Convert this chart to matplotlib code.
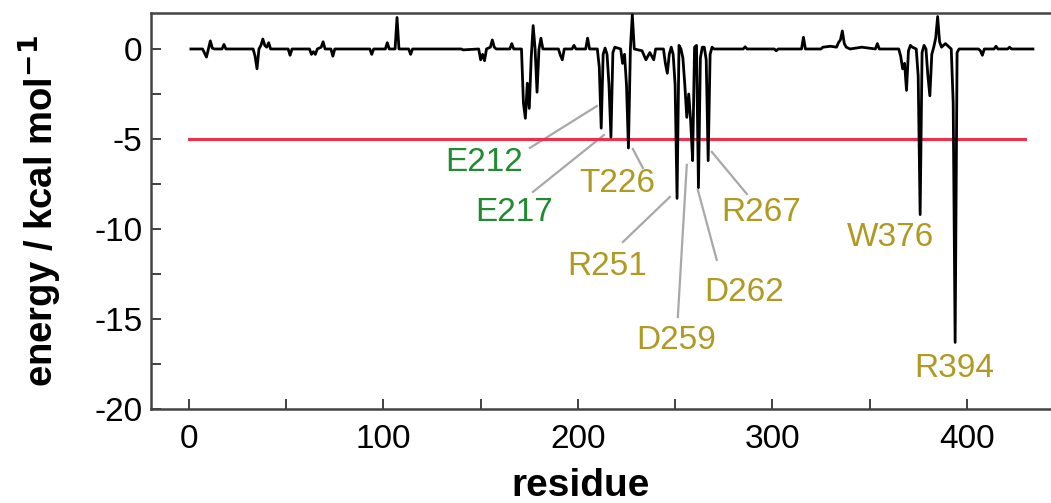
import matplotlib
matplotlib.use("Agg")
import matplotlib.pyplot as plt
from matplotlib.ticker import MultipleLocator

plt.rcParams['font.family'] = ['Liberation Sans', 'DejaVu Sans']
plt.rcParams['axes.unicode_minus'] = False

# per-residue interaction energy
residue = [1, 7, 9, 10, 11, 12, 13, 17, 18, 19,
           33, 34, 35, 36, 37, 38, 39, 40, 41, 42, 51, 52, 53,
           62, 63, 64, 65, 66, 68, 69, 70, 73, 74, 75, 93, 94, 95,
           101, 102, 103, 106, 107, 108, 113, 114, 115, 140, 141,
           149, 150, 151, 152, 153, 155, 156, 157, 158, 165, 166, 167,
           171, 172, 173, 174, 175, 176, 177, 178, 179, 180, 181, 182,
           190, 191, 192, 193, 197, 198, 199, 204, 205, 206,
           210, 211, 212, 213, 214, 215, 216, 217, 218, 219,
           222, 223, 224, 225, 226, 227, 228, 229, 233, 235, 237, 239, 240,
           244, 245, 246, 247, 248, 249, 250, 251, 252, 253, 254, 255, 256,
           257, 258, 259, 260, 261, 262, 263, 264, 265, 266, 267, 268, 269,
           270, 285, 286, 287, 301, 302, 303, 315, 316, 317, 325, 326,
           330, 333, 334, 335, 336, 337, 338, 340, 346, 353, 354, 355,
           365, 366, 367, 368, 369, 370, 371, 372, 374, 375, 376, 377,
           378, 379, 380, 381, 382, 383, 384, 385, 386, 387, 389, 390,
           392, 393, 394, 395, 396, 406, 407, 408, 409, 414, 415, 416,
           421, 422, 423, 434]
energy = [0, 0, -0.45, 0, 0.45, 0.05, 0, 0, 0.25, 0,
          0, -0.4, -1.1, 0, 0.2, 0.55, 0.2, 0.1, 0.35, 0, 0, -0.35, 0,
          0, -0.3, -0.15, -0.3, 0, 0.1, 0.4, 0, 0, -0.4, 0, 0, -0.3, 0,
          0, 0.35, 0, 0, 1.75, 0, 0, -0.3, 0, 0, -0.05,
          0, -0.6, -0.3, -0.65, 0, 0.1, 0.5, 0.1, 0, 0, 0.3, 0,
          0, -3.0, -3.85, -1.9, -3.3, -0.5, 1.3, 0, -2.4, 0, 0.6, 0,
          0, -0.35, -0.6, 0, 0, 0.2, 0, 0, 0.6, 0,
          0, -1.0, -4.4, -0.3, 0.05, -0.3, -2.0, -4.9, -0.2, 0.1,
          0, -0.8, -0.3, -2.0, -5.5, 0, 1.9, 0, -0.1, -0.6, -0.2, -0.6, 0,
          0, -0.8, -1.35, -0.3, 0.1, -0.3, -2.0, -8.3, 0.2, 0, -0.5, -2.0, -3.8,
          -2.5, -4.0, -6.2, 0.1, 0.2, -7.7, -0.5, 0.1, 0.1, -0.6, -6.2, -0.3, 0.1,
          0, 0, 0.12, 0, 0, -0.1, 0, 0, 0.65, 0, 0, 0.1,
          0.15, 0.1, 0.35, 0.5, 1.0, 0.3, 0.1, 0, 0.1, 0, 0.3, 0,
          0, -0.4, -1.1, -0.8, -2.3, -0.1, 0.2, 0.1, 0, -1.5, -9.2, -0.2,
          0.2, 0, -1.5, -2.6, -0.3, 0.1, 0.6, 1.8, 0.4, 0.1, 0.3, 0.2,
          0, -3.0, -16.3, -0.2, 0, 0, -0.1, -0.35, 0, 0, 0.15, 0,
          0, 0.1, 0, 0]

threshold = -5
threshold_span = [0, 430]

# labelled hot-spot residues
labels = ['E212', 'E217', 'T226', 'R251', 'D259', 'D262', 'R267', 'W376', 'R394']
label_x = [152.0, 167.0, 220.5, 215.0, 250.8, 285.3, 294.0, 361.0, 393.8]
label_y = [-6.3, -9.06, -7.5, -12.1, -16.2, -13.55, -9.1, -10.5, -17.75]
label_green = [True, True, False, False, False, False, False, False, False]
leaders = [((175.3, -5.5), (209.8, -3.17)),
           ((176.9, -7.94), (213.4, -4.78)),
           ((228.3, -5.56), (233.4, -6.61)),
           ((223.2, -10.72), (247.3, -8.22)),
           ((251.4, -14.89), (256.0, -6.44)),
           ((271.4, -11.72), (261.7, -7.83)),
           ((286.9, -8.06), (268.9, -5.72))]

fig = plt.figure(figsize=(10.51, 5.03), dpi=100)
ax = fig.add_axes([0.1437, 0.1869, 0.8687, 0.7873])

for (x0, y0), (x1, y1) in leaders:
    ax.plot([x0, x1], [y0, y1], color='#a8a8a8', lw=1.6, zorder=1)
ax.plot(threshold_span, [threshold, threshold], color='#f0304a', lw=2.2, zorder=2)
ax.plot(residue, energy, color='black', lw=2.0, zorder=3)

for name, x, y, g in zip(labels, label_x, label_y, label_green):
    ax.text(x, y, name, color='#228b30' if g else '#b09a22', fontsize=24,
            ha='center', va='center', zorder=4)

ax.set_xlim(-19.5, 450)
ax.set_ylim(-20, 2)
ax.xaxis.set_major_locator(MultipleLocator(100))
ax.xaxis.set_minor_locator(MultipleLocator(50))
ax.yaxis.set_major_locator(MultipleLocator(5))
ax.yaxis.set_minor_locator(MultipleLocator(2.5))
ax.tick_params(which='both', direction='in', length=7, width=1.3, color='#333333',
               top=False, right=False, labelsize=24)
ax.tick_params(axis='y', pad=6)
ax.tick_params(axis='x', pad=11)
for s in ax.spines.values():
    s.set_color('#444444')
    s.set_linewidth(1.8)

ax.set_xlabel('residue', fontsize=28, fontweight='bold')
ax.xaxis.set_label_coords(0.47, -0.15)
ax.set_ylabel('energy / kcal mol$^{\\mathbf{-1}}$', fontsize=27.5, fontweight='bold')
ax.yaxis.set_label_coords(-0.095, 0.5)

fig.savefig('out.png', dpi=100)
